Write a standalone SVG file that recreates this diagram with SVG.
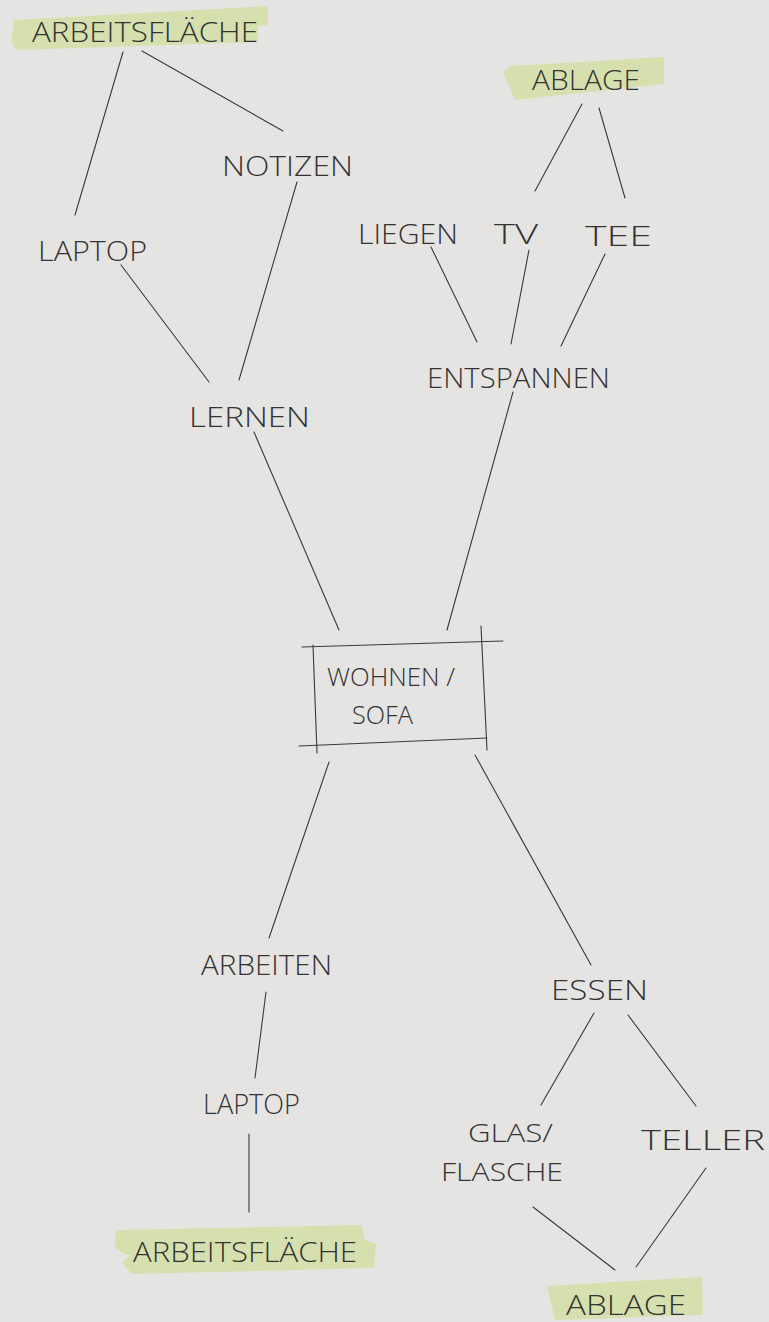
<svg xmlns="http://www.w3.org/2000/svg" width="769" height="1322" viewBox="0 0 769 1322">
<style>
.t{font-family:"Open Sans","Liberation Sans",sans-serif;font-weight:300;fill:#333;font-size:28px}
.s{font-size:25px}
.c line{stroke:#3a3a3a;stroke-width:1.1;stroke-linecap:round}
.hl{fill:#d6dfae}
.box line{stroke:#3a3a3a;stroke-width:1.1;stroke-linecap:round}
</style>
<rect width="769" height="1322" fill="#e5e4e2"/>
<g id="connectors" class="c">
<line x1="123" y1="52" x2="75" y2="215"/>
<line x1="142" y1="51" x2="283" y2="131"/>
<line x1="297" y1="182" x2="239" y2="380"/>
<line x1="121" y1="265" x2="209" y2="382"/>
<line x1="254" y1="432" x2="339" y2="630"/>
<line x1="582" y1="104" x2="535" y2="191"/>
<line x1="599" y1="108" x2="625" y2="198"/>
<line x1="431" y1="247" x2="477" y2="342"/>
<line x1="529" y1="250" x2="511" y2="344"/>
<line x1="605" y1="254" x2="561" y2="346"/>
<line x1="513" y1="392" x2="447" y2="630"/>
<line x1="329" y1="762" x2="269" y2="938"/>
<line x1="475" y1="755" x2="591" y2="965"/>
<line x1="266" y1="992" x2="255" y2="1078"/>
<line x1="249" y1="1134" x2="249" y2="1212"/>
<line x1="594" y1="1013" x2="541" y2="1105"/>
<line x1="628" y1="1015" x2="696" y2="1106"/>
<line x1="533" y1="1207" x2="615" y2="1270"/>
<line x1="706" y1="1168" x2="636" y2="1267"/>
</g>
<g id="arbeitsflaeche-top">
<path class="hl" d="M14,20 L268,6 L268,25 L258,26 L258,42 L20,50 Q10,48 12,36 Z"/>
<text class="t" x="32" y="42" textLength="226" lengthAdjust="spacingAndGlyphs">ARBEITSFLÄCHE</text>
</g>
<g id="notizen"><text class="t" x="222" y="176" textLength="131" lengthAdjust="spacingAndGlyphs">NOTIZEN</text></g>
<g id="laptop-top"><text class="t" x="38" y="261" textLength="109" lengthAdjust="spacingAndGlyphs">LAPTOP</text></g>
<g id="lernen"><text class="t" x="189" y="427" textLength="121" lengthAdjust="spacingAndGlyphs">LERNEN</text></g>
<g id="ablage-top">
<path class="hl" d="M503,72 L512,66 L664,57 L664,84 L515,100 Z"/>
<text class="t" x="532" y="90" textLength="108" lengthAdjust="spacingAndGlyphs">ABLAGE</text>
</g>
<g id="liegen"><text class="t" x="358" y="244" textLength="100" lengthAdjust="spacingAndGlyphs">LIEGEN</text></g>
<g id="tv"><text class="t" x="494" y="244" textLength="44" lengthAdjust="spacingAndGlyphs">TV</text></g>
<g id="tee"><text class="t" x="585" y="246" textLength="67" lengthAdjust="spacingAndGlyphs">TEE</text></g>
<g id="entspannen"><text class="t" x="427" y="388" textLength="183" lengthAdjust="spacingAndGlyphs">ENTSPANNEN</text></g>
<g id="wohnen-sofa">
<g class="box">
<line x1="302" y1="647" x2="503" y2="641"/>
<line x1="299" y1="746" x2="487" y2="738"/>
<line x1="313" y1="645" x2="317" y2="753"/>
<line x1="481" y1="626" x2="487" y2="750"/>
</g>
<text class="t s" x="327" y="686" textLength="128" lengthAdjust="spacingAndGlyphs">WOHNEN /</text>
<text class="t s" x="352" y="724" textLength="61" lengthAdjust="spacingAndGlyphs">SOFA</text>
</g>
<g id="arbeiten"><text class="t" x="201" y="975" textLength="131" lengthAdjust="spacingAndGlyphs">ARBEITEN</text></g>
<g id="laptop-bottom"><text class="t" x="203" y="1114" textLength="97" lengthAdjust="spacingAndGlyphs">LAPTOP</text></g>
<g id="arbeitsflaeche-bottom">
<path class="hl" d="M116,1230 L362,1225 L365,1240 L376,1244 L374,1268 L132,1274 L122,1262 L130,1256 L115,1248 Z"/>
<text class="t" x="133" y="1262" textLength="224" lengthAdjust="spacingAndGlyphs">ARBEITSFLÄCHE</text>
</g>
<g id="essen"><text class="t" x="551" y="1000" textLength="97" lengthAdjust="spacingAndGlyphs">ESSEN</text></g>
<g id="glas-flasche">
<text class="t s" x="468" y="1142" textLength="85" lengthAdjust="spacingAndGlyphs">GLAS/</text>
<text class="t s" x="441" y="1181" textLength="122" lengthAdjust="spacingAndGlyphs">FLASCHE</text>
</g>
<g id="teller"><text class="t" x="641" y="1150" textLength="124" lengthAdjust="spacingAndGlyphs">TELLER</text></g>
<g id="ablage-bottom">
<path class="hl" d="M547,1286 L702,1277 L703,1315 L555,1320 Z"/>
<text class="t" x="566" y="1315" textLength="120" lengthAdjust="spacingAndGlyphs">ABLAGE</text>
</g>
</svg>
